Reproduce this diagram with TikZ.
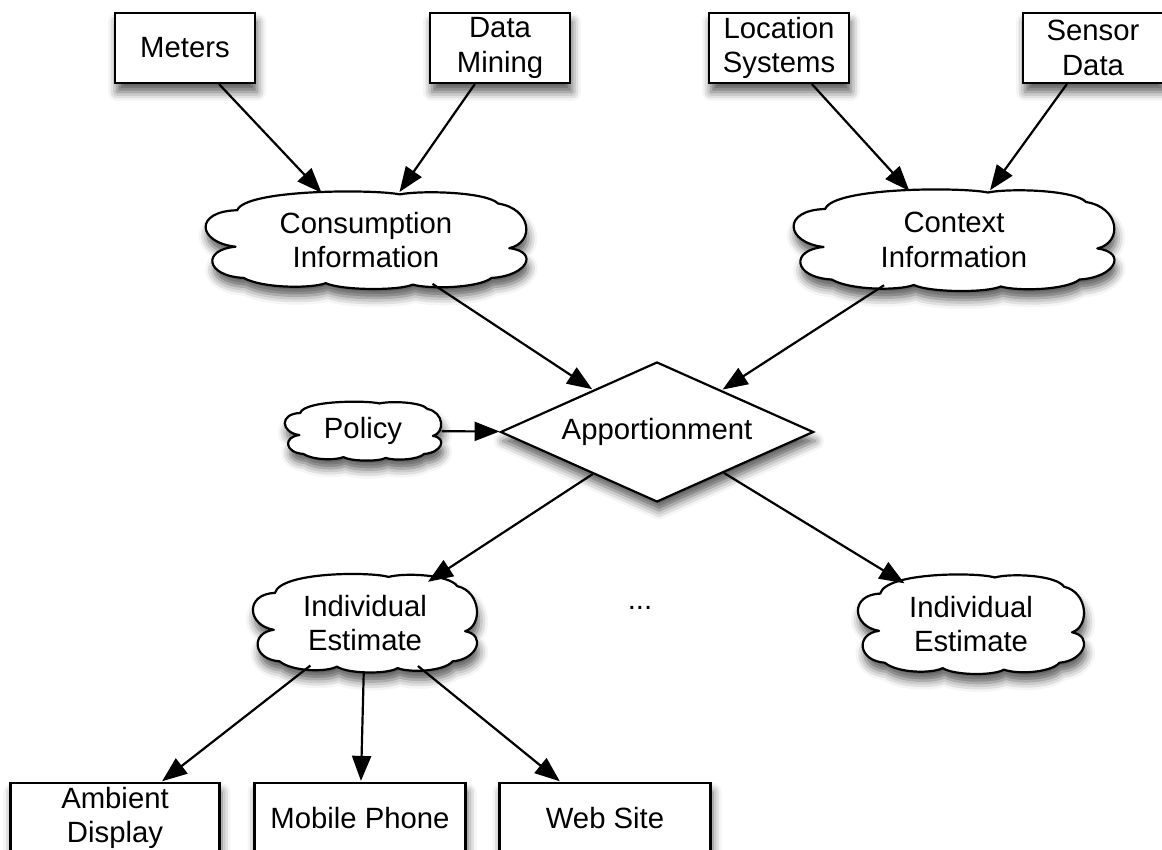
\documentclass[tikz,border=0pt]{standalone}
\usepackage{fontspec}
\setmainfont{Liberation Sans}
\usetikzlibrary{shapes.geometric,arrows.meta,shadows.blur}
\newcommand\cloudblob[4]{%
  \path[cloudfill,shift={(#1,#2)},x=#3pt,y=#4pt]
   (0.21,0.95) .. controls (0.05,1.06) and (-0.75,1.06) .. (-0.8,0.62)
   .. controls (-1.07,0.6) and (-1.05,-0.05) .. (-0.81,-0.14)
   .. controls (-1.02,-0.2) and (-1.0,-0.75) .. (-0.76,-0.79)
   .. controls (-0.65,-1.0) and (-0.35,-1.02) .. (-0.25,-0.9)
   .. controls (-0.15,-1.05) and (0.2,-1.06) .. (0.29,-0.93)
   .. controls (0.4,-1.03) and (0.7,-1.0) .. (0.78,-0.79)
   .. controls (1.0,-0.75) and (1.08,-0.25) .. (0.89,-0.17)
   .. controls (1.05,-0.05) and (1.03,0.65) .. (0.82,0.76)
   .. controls (0.75,1.0) and (0.35,1.04) .. (0.21,0.95) -- cycle;}
\begin{document}
\begin{tikzpicture}[x=1pt,y=-1pt,
  font=\fontsize{29.3}{34.5}\selectfont,
  shad/.style={blur shadow={shadow xshift=2pt,shadow yshift=-9pt,shadow blur radius=9pt,shadow opacity=65}},
  boxnode/.style={draw=black,line width=2.2pt,fill=white,shad,align=center,inner sep=0pt,minimum height=70pt},
  cloudfill/.style={draw=black,line width=2.2pt,line join=round,fill=white,shad},
  anch/.style={ellipse,inner sep=0pt,align=center},
  decision/.style={diamond,aspect=2.24,draw=black,line width=2.2pt,fill=white,shad,inner sep=0pt,minimum width=313pt,minimum height=140pt},
  conn/.style={draw=black,line width=2.2pt,-{Triangle[length=25pt,width=19pt,fill=black,line join=miter]},shorten >=1pt}
]
\useasboundingbox (0,0) rectangle (1162,850);
\clip (0,0) rectangle (1162,850);
\node[boxnode,minimum width=140pt] (meters) at (185,48) {Meters};
\node[boxnode,minimum width=140pt] (mining) at (500,48) {Data\\Mining};
\node[boxnode,minimum width=140pt] (loc) at (779,48) {Location\\Systems};
\node[boxnode,minimum width=140pt] (sensor) at (1093,48) {Sensor\\Data};
\cloudblob{366}{240}{161}{48}
\node[anch,minimum width=322pt,minimum height=96pt] (cons) at (366,240) {Consumption\\Information};
\cloudblob{954}{240}{161}{50}
\node[anch,minimum width=322pt,minimum height=100pt] (ctx) at (954,240) {Context\\Information};
\node[decision] (app) at (657,432) {Apportionment};
\cloudblob{363}{431}{78.5}{29}
\node[anch,minimum width=157pt,minimum height=58pt] (policy) at (363,431) {Policy};
\cloudblob{365}{623}{112.5}{48.5}
\node[anch,minimum width=225pt,minimum height=97pt] (ind1) at (365,623) {Individual\\Estimate};
\cloudblob{971}{624}{113.5}{49}
\node[anch,minimum width=227pt,minimum height=98pt] (ind2) at (971,624) {Individual\\Estimate};
\node (dots) at (640,608) {...};
\node[boxnode,minimum width=209pt] (amb) at (115,818) {Ambient\\Display};
\node[boxnode,minimum width=211pt] (mob) at (360,818) {Mobile Phone};
\node[boxnode,minimum width=211pt] (web) at (605,818) {Web Site};
\draw[conn] (meters) -- (cons);
\draw[conn] (mining) -- (cons);
\draw[conn] (loc) -- (ctx);
\draw[conn] (sensor) -- (ctx);
\draw[conn] (cons) -- (app);
\draw[conn] (ctx) -- (app);
\draw[conn] (policy) -- (app);
\draw[conn] (app) -- (ind1);
\draw[conn] (app) -- (ind2);
\draw[conn] (ind1) -- (amb);
\draw[conn] (ind1) -- (mob);
\draw[conn] (ind1) -- (web);
\end{tikzpicture}
\end{document}
